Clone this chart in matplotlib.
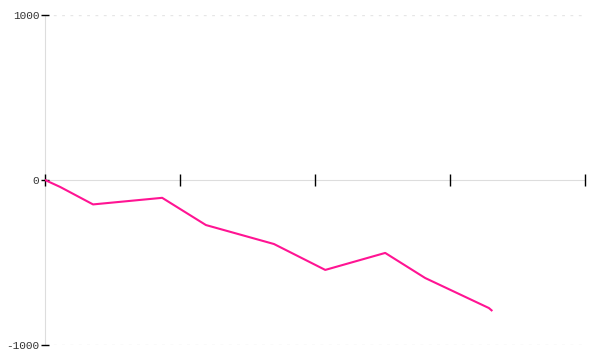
import numpy as np
import matplotlib.pyplot as plt

# Series (x in 0..100 units, no labels shown)
x_vals = [0, 2.8, 8.9, 21.7, 29.8, 42.4, 51.9, 63.0, 70.4, 82.2, 82.7]
y_vals = [0, -42, -148, -108, -273, -388, -545, -442, -594, -776, -790]
x_ticks = [0, 25, 50, 75, 100]
y_ticks = [-1000, 0, 1000]

fig = plt.figure(figsize=(6, 3.6), dpi=100)
ax = fig.add_axes([0.075, 0.0417, 0.9, 0.9166])

ax.plot(x_vals, y_vals, color='#ff1493', lw=1.5, solid_joinstyle='round')

ax.set_xlim(0, 100)
ax.set_ylim(-1000, 1000)
ax.set_xticks(x_ticks)
ax.set_xticklabels([])
ax.set_yticks(y_ticks)
ax.set_yticklabels([str(v) for v in y_ticks], family='Liberation Mono',
                   fontsize=8, color='#333333')

# ── spines: y axis at left, x axis through zero ──
ax.spines['top'].set_visible(False)
ax.spines['right'].set_visible(False)
ax.spines['left'].set_color('#dddddd')
ax.spines['bottom'].set_position(('data', 0))
ax.spines['bottom'].set_color('#dddddd')
ax.spines['left'].set_zorder(0.5)
ax.spines['bottom'].set_zorder(0.5)

ax.tick_params(axis='x', direction='inout', length=9, width=1, color='black')
ax.tick_params(axis='y', direction='inout', length=6, width=1, color='black', pad=1)

# dotted grid only at the outer y ticks; zero line is the solid axis
ax.yaxis.grid(True, linestyle=(0, (2, 4)), color='#e6e6e6', lw=1)
ax.set_axisbelow(True)
for val, gl in zip(y_ticks, ax.get_ygridlines()):
    if val == 0:
        gl.set_visible(False)

fig.savefig('out.png', dpi=100)
